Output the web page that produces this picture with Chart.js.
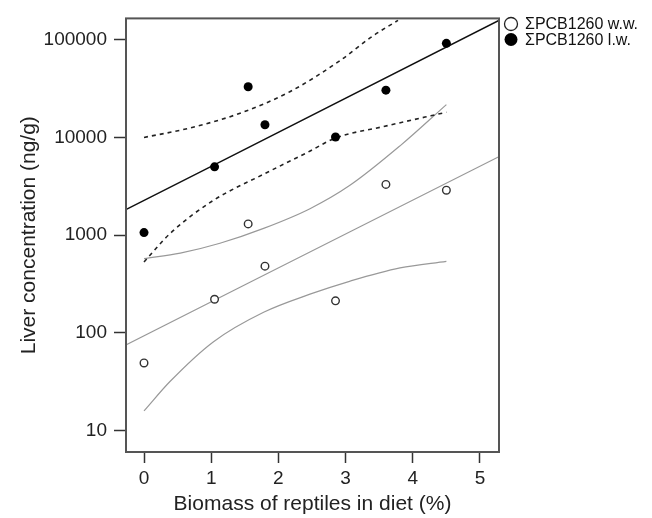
<!doctype html>
<html lang="en">
  <head>
    <meta charset="UTF-8" />
    <title>Liver concentration vs reptiles in diet</title>
    <script src="https://cdn.jsdelivr.net/npm/chart.js@4.4.0/dist/chart.umd.min.js"></script>
    <style>
      html, body { margin: 0; padding: 0; background: #fff; }
      #wrap { width: 652px; height: 518px; }
    </style>
  </head>
  <body>
    <div id="wrap"><canvas id="liverChart" width="652" height="518"></canvas></div>
    <script>
// measured points: biomass of reptiles in diet (%) and liver concentrations (ng/g)
const dietPct = [0, 1.05, 1.55, 1.8, 2.85, 3.6, 4.5];
const lwConc = [1060, 5000, 33000, 13500, 10100, 30500, 92000];
const wwConc = [49, 220, 1300, 480, 212, 3300, 2880];

// fitted lines (end points at the plot edges)
const fitX = [-0.27, 5.28];
const lwFitY = [1820, 157700];
const wwFitY = [75, 6340];

// confidence bands, lipid weight (dashed)
const lwUpX = [0, 0.685, 1.43, 2.17, 2.92, 3.41, 3.78];
const lwUpY = [10000, 12500, 17700, 29400, 61400, 110000, 158000];
const lwLoX = [0, 0.39, 1.03, 1.78, 2.42, 2.85, 3.56, 4.5];
const lwLoY = [530, 1040, 2260, 4200, 6950, 9860, 12900, 18100];

// confidence bands, wet weight (grey)
const wwUpX = [0, 0.54, 1.13, 1.78, 2.47, 3.07, 3.81, 4.5];
const wwUpY = [573, 653, 824, 1170, 1862, 3250, 8200, 21700];
const wwLoX = [0, 0.39, 1.03, 1.78, 2.47, 3.07, 3.81, 4.5];
const wwLoY = [15.8, 31.8, 80.5, 162, 248, 338, 461, 538];

const xTicks = [0, 1, 2, 3, 4, 5];
const yTicks = [10, 100, 1000, 10000, 100000];

const pts = (xs, ys) => xs.map((x, i) => ({ x: x, y: ys[i] }));

const FONT = "'Liberation Sans', Arial, sans-serif";

function lineSet(xs, ys, color, width, dash) {
    return {
        type: 'line',
        data: pts(xs, ys),
        borderColor: color,
        borderWidth: width,
        borderDash: dash || [],
        pointRadius: 0,
        cubicInterpolationMode: 'monotone',
        fill: false
    };
}

// box round the plot area + legend on the right
const boxAndLegend = {
    id: 'boxAndLegend',
    afterDatasetsDraw(chart) {
        const { ctx, chartArea: a } = chart;
        ctx.save();
        ctx.strokeStyle = '#555';
        ctx.lineWidth = 2;
        ctx.strokeRect(a.left, a.top, a.right - a.left, a.bottom - a.top);

        const items = [
            { label: chart.data.datasets[1].label, filled: false, y: 24 },
            { label: chart.data.datasets[0].label, filled: true, y: 39.5 }
        ];
        ctx.font = '16px ' + FONT;
        ctx.textBaseline = 'middle';
        items.forEach(it => {
            ctx.beginPath();
            ctx.arc(511, it.y, 6.5, 0, Math.PI * 2);
            if (it.filled) {
                ctx.fillStyle = '#000';
                ctx.fill();
            } else {
                ctx.lineWidth = 1.3;
                ctx.strokeStyle = '#222';
                ctx.stroke();
            }
            ctx.fillStyle = '#111';
            ctx.fillText(it.label, 525, it.y + 1);
        });
        ctx.restore();
    }
};

const ctx = document.getElementById('liverChart').getContext('2d');
const liverChart = new Chart(ctx, {
    type: 'scatter',
    data: {
        datasets: [{
            label: 'ΣPCB1260 l.w.',
            data: pts(dietPct, lwConc),
            pointRadius: 4.5,
            pointBackgroundColor: '#000',
            pointBorderColor: '#000',
            pointBorderWidth: 0
        }, {
            label: 'ΣPCB1260 w.w.',
            data: pts(dietPct, wwConc),
            pointRadius: 3.8,
            pointBackgroundColor: '#fff',
            pointBorderColor: '#333',
            pointBorderWidth: 1.4
        },
        lineSet(fitX, lwFitY, '#111', 1.4),
        lineSet(lwUpX, lwUpY, '#222', 1.6, [4, 4]),
        lineSet(lwLoX, lwLoY, '#222', 1.6, [4, 4]),
        lineSet(fitX, wwFitY, '#999', 1.2),
        lineSet(wwUpX, wwUpY, '#999', 1.2),
        lineSet(wwLoX, wwLoY, '#999', 1.2)
        ]
    },
    options: {
        responsive: false,
        animation: false,
        layout: { padding: { top: 12, right: 153, left: 0, bottom: 0 } },
        plugins: {
            legend: { display: false },
            tooltip: { enabled: false }
        },
        scales: {
            x: {
                type: 'linear',
                min: -0.268,
                max: 5.283,
                afterBuildTicks: s => { s.ticks = xTicks.map(v => ({ value: v })); },
                afterFit: s => { s.height = 66; },
                grid: { drawOnChartArea: false, drawTicks: true, tickLength: 11, tickWidth: 1.5, tickColor: '#333' },
                border: { display: false },
                ticks: { padding: 4, color: '#222', font: { family: FONT, size: 19 }, callback: v => String(v) },
                title: { display: true, text: 'Biomass of reptiles in diet (%)', color: '#222', font: { family: FONT, size: 21 }, padding: { top: 0, bottom: 1 } }
            },
            y: {
                type: 'logarithmic',
                min: 6.0,
                max: 165600,
                afterBuildTicks: s => { s.ticks = yTicks.map(v => ({ value: v })); },
                afterFit: s => { s.width = 126; },
                grid: { drawOnChartArea: false, drawTicks: true, tickLength: 12, tickWidth: 1.5, tickColor: '#333' },
                border: { display: false },
                ticks: { padding: 7, color: '#222', font: { family: FONT, size: 19 }, callback: v => String(v) },
                title: { display: true, text: 'Liver concentration (ng/g)', color: '#222', font: { family: FONT, size: 21 }, padding: { top: 17, bottom: 0 } }
            }
        }
    },
    plugins: [boxAndLegend]
});
    </script>
  </body>
</html>
